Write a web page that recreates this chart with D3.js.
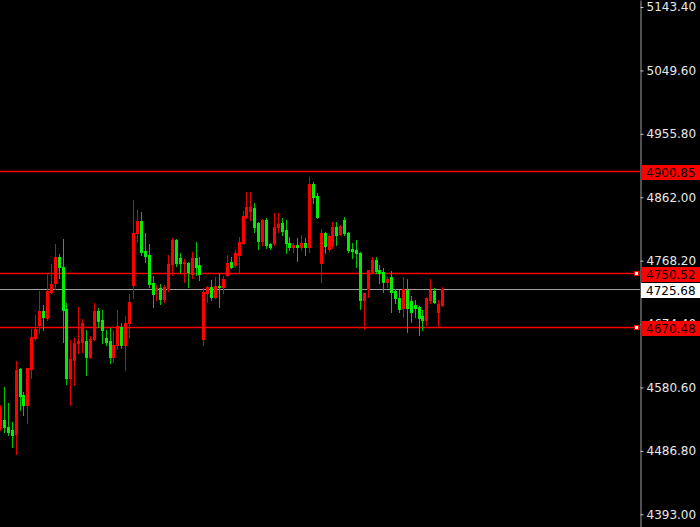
<!DOCTYPE html>
<html>
<head>
<meta charset="utf-8">
<script src="https://cdn.jsdelivr.net/npm/d3@7"></script>
<style>
html, body { margin: 0; padding: 0; background: #000; overflow: hidden; }
svg { display: block; }
</style>
</head>
<body>
<div id="chart"></div>
<script>
// OHLC (red = rising candle, green = falling candle)
const opens  = [4522,4532,4522,4518,4512,4608,4570,4555,4608,4654,4673,4694,4683,4722,4735,4774,4759,4697,4595,4621,
                4646,4648,4649,4626,4652,4694,4680,4654,4649,4626,4643,4670,4643,4676,4732,4809,4827,4783,4777,4735,
                4725,4728,4711,4726,4763,4799,4772,4765,4765,4748,4772,4762,4652,4720,4729,4714,4731,4729,4747,4766,
                4762,4777,4794,4833,4842,4846,4824,4797,4828,4793,4794,4818,4824,4814,4794,4788,4791,4788,4794,4788,
                4882,4864,4765,4809,4785,4791,4818,4808,4828,4809,4785,4784,4780,4710,4726,4751,4769,4754,4751,4737,
                4744,4723,4713,4698,4725,4708,4703,4700,4686,4680,4710,4723,4692,4703]
const highs  = [4555,4581,4558,4530,4620,4609,4574,4610,4667,4688,4723,4703,4750,4763,4793,4778,4800,4706,4651,4654,
                4700,4682,4666,4657,4706,4698,4695,4666,4669,4664,4695,4676,4686,4719,4858,4843,4840,4809,4793,4746,
                4732,4734,4732,4777,4802,4800,4780,4771,4766,4781,4796,4774,4728,4731,4740,4744,4750,4746,4777,4774,
                4784,4803,4842,4870,4870,4853,4825,4830,4831,4795,4839,4839,4831,4828,4803,4795,4802,4806,4802,4892,
                4885,4868,4815,4810,4806,4825,4825,4821,4833,4811,4794,4799,4781,4721,4755,4774,4774,4762,4757,4744,
                4753,4726,4725,4744,4741,4716,4710,4701,4695,4714,4741,4728,4710,4729]
const lows   = [4518,4515,4510,4493,4482,4547,4540,4528,4595,4651,4661,4666,4680,4720,4726,4743,4648,4586,4555,4584,
                4632,4633,4599,4624,4651,4670,4646,4643,4617,4618,4637,4639,4606,4655,4713,4796,4777,4766,4729,4700,
                4710,4704,4707,4723,4747,4760,4751,4737,4729,4743,4747,4740,4643,4707,4710,4713,4700,4720,4746,4757,
                4759,4751,4793,4831,4828,4811,4785,4791,4787,4786,4792,4811,4806,4780,4784,4781,4768,4784,4777,4781,
                4853,4831,4737,4780,4782,4787,4791,4806,4806,4781,4772,4759,4697,4667,4714,4750,4750,4735,4722,4729,
                4692,4706,4692,4685,4663,4677,4685,4658,4666,4673,4706,4706,4672,4701]
const closes = [4550,4522,4515,4510,4606,4568,4555,4610,4655,4667,4694,4685,4723,4734,4774,4759,4695,4595,4623,4646,
                4649,4676,4626,4652,4694,4679,4666,4648,4626,4643,4671,4643,4676,4707,4809,4827,4781,4775,4734,4719,
                4728,4711,4729,4763,4799,4765,4765,4766,4751,4772,4759,4748,4722,4729,4714,4731,4729,4741,4765,4759,
                4780,4796,4834,4848,4848,4818,4797,4828,4791,4788,4818,4822,4812,4794,4788,4791,4788,4794,4788,4882,
                4862,4833,4809,4790,4805,4818,4806,4819,4809,4784,4782,4780,4710,4720,4754,4769,4753,4750,4737,4741,
                4722,4713,4697,4726,4698,4692,4698,4683,4680,4713,4725,4707,4704,4725.68]

const tickValues = [5143.40, 5049.60, 4955.80, 4862.00, 4768.20, 4674.40, 4580.60, 4486.80, 4393.00]
const levelLines = [4900.85, 4750.52, 4670.48]
const bidPrice = 4725.68

const width = 700, height = 527
const axisX = 640

const svg = d3.select("#chart").append("svg")
    .attr("width", width).attr("height", height)
    .style("background", "#000")

const x = d3.scaleLinear().domain([0, opens.length - 1]).range([0, 442])
const y = d3.scaleLinear().domain([4374.2, 5153.8]).range([height, 0])
const py = v => Math.round(y(v))

const candles = d3.range(opens.length).map(i => ({
    i: i, o: opens[i], h: highs[i], l: lows[i], c: closes[i]
}))

// horizontal levels (the first one is not selected, so a bit thinner)
const lineGroup = svg.append("g")
lineGroup.selectAll("line.level").data(levelLines).join("line")
    .attr("class", "level")
    .attr("x1", 0).attr("x2", axisX)
    .attr("y1", d => py(d) + 0.5).attr("y2", d => py(d) + 0.5)
    .attr("stroke", "#ff0000")
    .attr("stroke-width", (d, i) => i == 0 ? 1.3 : 1.7)
lineGroup.append("line")
    .attr("x1", 0).attr("x2", axisX)
    .attr("y1", py(bidPrice) + 0.5).attr("y2", py(bidPrice) + 0.5)
    .attr("stroke", "#a0a0a0").attr("stroke-width", 1.2)

// candles
const candleGroup = svg.append("g").attr("class", "candles").attr("shape-rendering", "crispEdges")
const colorOf = d => d.c >= d.o ? "#ff0000" : "#00ee00"
const wickColorOf = d => d.c >= d.o ? "#e00000" : "#00c400"

candleGroup.selectAll("rect.wick").data(candles).join("rect")
    .attr("class", "wick")
    .attr("x", d => Math.round(x(d.i)))
    .attr("width", 1)
    .attr("y", d => py(d.h))
    .attr("height", d => Math.max(1, py(d.l) - py(d.h) + 1))
    .attr("fill", wickColorOf)

candleGroup.selectAll("rect.body").data(candles).join("rect")
    .attr("class", "body")
    .attr("x", d => Math.round(x(d.i)) - 1)
    .attr("width", 3)
    .attr("y", d => py(Math.max(d.o, d.c)))
    .attr("height", d => Math.max(1, py(Math.min(d.o, d.c)) - py(Math.max(d.o, d.c)) + 1))
    .attr("fill", colorOf)

// little handles on the two selected lines
svg.selectAll("rect.handle").data(levelLines.slice(1)).join("rect")
    .attr("class", "handle")
    .attr("shape-rendering", "crispEdges")
    .attr("x", axisX - 5.5).attr("y", d => py(d) - 1.5)
    .attr("width", 4).attr("height", 4)
    .attr("fill", "#fff").attr("stroke", "#ff0000").attr("stroke-width", 1)

// price axis
const yAxis = d3.axisRight(y).tickValues(tickValues).tickSize(3).tickSizeOuter(0).tickPadding(3)
    .tickFormat(d3.format(".2f"))
const axisGroup = svg.append("g").attr("transform", `translate(${axisX + 0.5},0)`).call(yAxis)
axisGroup.select(".domain").attr("stroke", "#a0a0a0")
axisGroup.selectAll(".tick line").attr("stroke", "#c8c8c8")
axisGroup.selectAll(".tick text")
    .attr("fill", "#e8e8e8")
    .style("font-family", "'DejaVu Sans', sans-serif")
    .style("font-size", "12px")

// price boxes
const boxes = levelLines.map(v => ({ v: v, bg: "#ff0000" })).concat([{ v: bidPrice, bg: "#ffffff" }])
const boxGroup = svg.append("g")
boxGroup.selectAll("rect").data(boxes).join("rect")
    .attr("x", axisX + 1).attr("width", width - axisX - 1)
    .attr("y", d => py(d.v) - 6).attr("height", 15)
    .attr("fill", d => d.bg)
boxGroup.selectAll("text").data(boxes).join("text")
    .attr("x", axisX + 6)
    .attr("y", d => py(d.v) + 1.5)
    .attr("dy", "0.35em")
    .attr("fill", "#000")
    .style("font-family", "'DejaVu Sans', sans-serif")
    .style("font-size", "12px")
    .text(d => d3.format(".2f")(d.v))
</script>
</body>
</html>
